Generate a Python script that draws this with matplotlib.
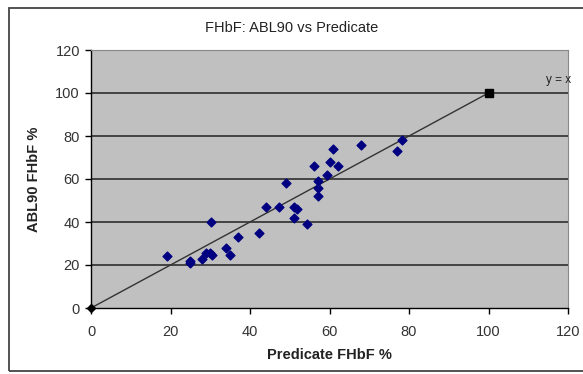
import matplotlib.pyplot as plt
from matplotlib.patches import Rectangle

plt.rcParams['font.family'] = ['Liberation Sans', 'DejaVu Sans']

# data
predicate = [19, 25, 25, 28, 29, 30, 30.4, 30.2, 34, 35, 37, 42.2, 44, 47.2, 49,
             51, 51.8, 51, 54.3, 56, 57.2, 57.2, 57.2, 59.3, 60, 61, 62.2, 68, 77, 78.2]
abl90 = [24, 22, 21, 23, 25.5, 25.5, 24.5, 40, 28, 24.5, 33, 35, 47, 47, 58,
         47, 46, 42, 39, 66, 59, 56, 52, 62, 68, 74, 66, 76, 73, 78]
line_x = [0, 100]
line_y = [0, 100]

fig = plt.figure(figsize=(5.83, 3.74), dpi=100)
fig.patches.append(Rectangle((9 / 583, 3.5 / 374), 1.2, 363 / 374, transform=fig.transFigure,
                             fill=False, edgecolor='#444444', linewidth=1.3, clip_on=False))

ax = fig.add_axes([91 / 583, 1 - 308 / 374, 477 / 583, 258 / 374])
ax.set_facecolor('#c0c0c0')

ax.set_xlim(0, 120)
ax.set_ylim(0, 120)
ax.set_xticks(range(0, 121, 20))
ax.set_yticks(range(0, 121, 20))
for yv in range(20, 101, 20):
    ax.axhline(yv, color='#222222', linewidth=1.1, zorder=1)

ax.plot(line_x, line_y, color='#333333', linewidth=1, zorder=2)
ax.plot(line_x[0], line_y[0], marker='D', color='black', markersize=4.5, zorder=4, clip_on=False)
ax.plot(line_x[1], line_y[1], marker='s', color='black', markersize=5.5, zorder=4)
ax.scatter(predicate, abl90, marker='D', s=20, color='#000080', zorder=3)

ax.text(117.5, 106, 'y = x', fontsize=8.5, color='#222222', ha='center', va='center')

for side in ['top', 'right']:
    ax.spines[side].set_color('#888888')
    ax.spines[side].set_linewidth(0.8)
for side in ['left', 'bottom']:
    ax.spines[side].set_color('black')
    ax.spines[side].set_linewidth(1)

ax.tick_params(direction='out', length=4, width=1, colors='black', labelcolor='#333333',
               labelsize=10.5)
ax.tick_params(axis='x', pad=8)
ax.tick_params(axis='y', pad=4)
ax.set_xlabel('Predicate FHbF %', fontsize=10.5, fontweight='bold', color='#222222', labelpad=7)
ax.set_ylabel('ABL90 FHbF %', fontsize=10.5, fontweight='bold', color='#222222', labelpad=10)
fig.text(0.5, 1 - 28 / 374, 'FHbF: ABL90 vs Predicate', ha='center', va='center',
         fontsize=10.5, color='#222222')

fig.savefig('out.png', dpi=100)
